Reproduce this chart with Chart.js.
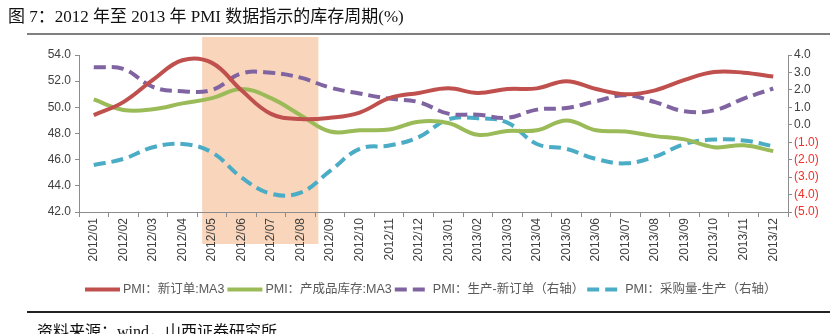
<!DOCTYPE html>
<html>
<head>
<meta charset="utf-8">
<script src="https://cdn.jsdelivr.net/npm/chart.js@4/dist/chart.umd.min.js"></script>
<style>
  html, body { margin: 0; padding: 0; background: #fff; overflow: hidden; }
  #wrap { position: relative; width: 840px; height: 334px; }
  #title {
    position: absolute; left: 8px; top: 2px;
    font: 17px "Liberation Serif", "Noto Sans CJK SC", serif; color: #111;
    white-space: nowrap;
  }
  .rule { position: absolute; left: 27px; width: 803px; }
  #topRule { top: 33px; height: 2px; background: #808080; }
  #bottomRule { top: 311px; height: 2px; background: #222; }
  #source {
    position: absolute; left: 37px; top: 318px;
    font: 16px "Liberation Serif", "Noto Sans CJK SC", serif; color: #111;
    white-space: nowrap;
  }
  canvas { position: absolute; left: 0; top: 0; }
</style>
</head>
<body>
<div id="wrap">
  <canvas id="pmiChart" width="840" height="334"></canvas>
  <div id="title">图 7：2012 年至 2013 年 PMI 数据指示的库存周期(%)</div>
  <div id="topRule" class="rule"></div>
  <div id="bottomRule" class="rule"></div>
  <div id="source">资料来源：wind，山西证券研究所</div>
</div>
<script>
// months
const months = ['2012/01', '2012/02', '2012/03', '2012/04', '2012/05', '2012/06',
    '2012/07', '2012/08', '2012/09', '2012/10', '2012/11', '2012/12',
    '2013/01', '2013/02', '2013/03', '2013/04', '2013/05', '2013/06',
    '2013/07', '2013/08', '2013/09', '2013/10', '2013/11', '2013/12'];

// left axis series
const newOrders = [49.4, 50.4, 52.1, 53.6, 53.4, 51.3, 49.5, 49.1, 49.2, 49.6, 50.7, 51.1,
    51.45, 51.1, 51.4, 51.45, 52.0, 51.4, 51.0, 51.3, 52.1, 52.7, 52.65, 52.35];
const finishedStock = [50.6, 49.8, 49.85, 50.3, 50.7, 51.4, 50.7, 49.4, 48.15, 48.25, 48.3, 48.9,
    48.8, 47.9, 48.2, 48.25, 49.0, 48.25, 48.15, 47.8, 47.55, 46.95, 47.1, 46.65];

// right axis series
const prodMinusOrders = [3.3, 3.2, 2.17, 1.92, 2.0, 2.94, 2.98, 2.7, 2.13, 1.79, 1.5, 1.3,
    0.64, 0.58, 0.4, 0.87, 0.96, 1.35, 1.69, 1.3, 0.77, 0.83, 1.5, 2.08];
const purchMinusProd = [-2.31, -1.96, -1.29, -1.1, -1.58, -3.02, -3.95, -3.89, -2.64, -1.38, -1.19, -0.71,
    0.31, 0.37, 0.12, -1.1, -1.38, -1.96, -2.21, -1.83, -1.1, -0.85, -0.9, -1.23];

// shaded months (index range)
const shadeFrom = 4;
const shadeTo = 7;

const tickFont = { family: "'Liberation Sans', 'Noto Sans CJK SC', sans-serif", size: 12 };
const axisGray = '#8c8c8c';

// peach band behind the 2012/05 - 2012/08 months
const shadePlugin = {
    id: 'shade',
    beforeDraw(chart) {
        const x = chart.scales.x;
        const half = (x.getPixelForValue(1) - x.getPixelForValue(0)) / 2;
        const x1 = x.getPixelForValue(shadeFrom) - half + 5;
        const x2 = x.getPixelForValue(shadeTo) + half + 3;
        const ctx = chart.ctx;
        ctx.save();
        ctx.fillStyle = '#f9d6bb';
        ctx.fillRect(x1, 37, x2 - x1, 244 - 37);
        ctx.restore();
    }
};

// legend row under the axis
const legendPlugin = {
    id: 'rowLegend',
    afterDraw(chart) {
        const ctx = chart.ctx;
        ctx.save();
        ctx.font = "12.5px 'Liberation Sans', 'Noto Sans CJK SC', sans-serif";
        ctx.textBaseline = 'middle';
        let x = 85;
        const y = 289.5;
        chart.data.datasets.forEach(ds => {
            ctx.beginPath();
            ctx.strokeStyle = ds.borderColor;
            ctx.lineWidth = 4;
            ctx.setLineDash(ds.borderDash || []);
            ctx.moveTo(x, y);
            ctx.lineTo(x + 35, y);
            ctx.stroke();
            ctx.setLineDash([]);
            x += 38;
            ctx.fillStyle = '#595959';
            ctx.fillText(ds.label, x, y);
            x += ctx.measureText(ds.label).width + 3;
        });
        ctx.restore();
    }
};

new Chart(document.getElementById('pmiChart').getContext('2d'), {
    type: 'line',
    data: {
        labels: months,
        datasets: [{
            label: 'PMI：新订单:MA3',
            data: newOrders,
            yAxisID: 'y',
            borderColor: '#c0504d',
            borderWidth: 4,
            tension: 0.4,
            pointRadius: 0
        }, {
            label: 'PMI：产成品库存:MA3',
            data: finishedStock,
            yAxisID: 'y',
            borderColor: '#9bbb59',
            borderWidth: 4,
            tension: 0.4,
            pointRadius: 0
        }, {
            label: 'PMI：生产-新订单（右轴）',
            data: prodMinusOrders,
            yAxisID: 'y2',
            borderColor: '#8064a2',
            borderWidth: 4,
            borderDash: [12, 6],
            tension: 0.4,
            pointRadius: 0
        }, {
            label: 'PMI：采购量-生产（右轴）',
            data: purchMinusProd,
            yAxisID: 'y2',
            borderColor: '#4bacc6',
            borderWidth: 4,
            borderDash: [12, 6],
            tension: 0.4,
            pointRadius: 0
        }]
    },
    options: {
        responsive: false,
        animation: false,
        devicePixelRatio: 1,
        layout: { padding: { top: 55, left: 0, right: 0, bottom: 0 } },
        plugins: {
            legend: { display: false },
            tooltip: { enabled: false }
        },
        scales: {
            x: {
                offset: true,
                grid: { offset: true, drawOnChartArea: false, drawTicks: true, tickLength: 5, color: axisGray },
                border: { color: axisGray, width: 1 },
                ticks: { font: tickFont, color: '#404040', minRotation: 90, maxRotation: 90, padding: 1, autoSkip: false },
                afterFit(scale) { scale.height = 122; }
            },
            y: {
                position: 'left',
                min: 42,
                max: 54,
                grid: { drawOnChartArea: false, tickLength: 4, color: axisGray },
                border: { color: axisGray, width: 1 },
                ticks: {
                    stepSize: 2,
                    font: tickFont,
                    color: '#404040',
                    padding: 4,
                    callback: v => v.toFixed(1)
                },
                afterFit(scale) { scale.width = 79; }
            },
            y2: {
                position: 'right',
                min: -5,
                max: 4,
                grid: { drawOnChartArea: false, tickLength: 4, color: axisGray },
                border: { color: axisGray, width: 1 },
                ticks: {
                    stepSize: 1,
                    font: tickFont,
                    color: c => c.tick.value < 0 ? '#f0302a' : '#404040',
                    padding: 2,
                    callback: v => v < 0 ? '(' + Math.abs(v).toFixed(1) + ')' : v.toFixed(1)
                },
                afterFit(scale) { scale.width = 52; }
            }
        }
    },
    plugins: [shadePlugin, legendPlugin]
});
</script>
</body>
</html>
